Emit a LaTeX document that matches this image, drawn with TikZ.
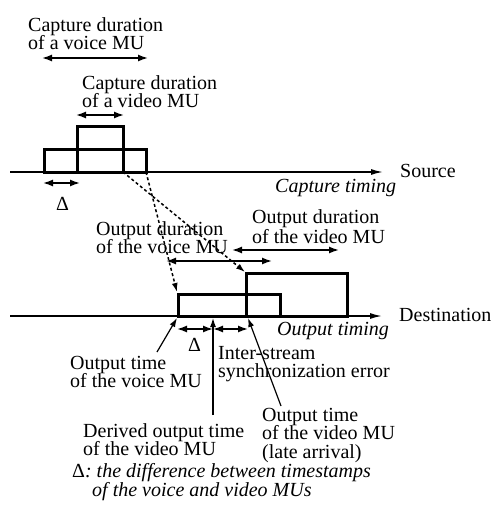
\documentclass[tikz,border=0pt]{standalone}
\usepackage{fontspec}
\setmainfont{Liberation Serif}
\usetikzlibrary{arrows.meta}
\begin{document}
\begin{tikzpicture}[x=1pt,y=-1pt,
  lbl/.style={inner sep=0pt,anchor=north west,align=left,font=\fontsize{20}{18.5}\selectfont},
  one/.style={inner sep=0pt,anchor=base west,font=\fontsize{20}{18.5}\selectfont},
  box/.style={line width=3pt},
  axis/.style={line width=1.5pt,-{Latex[length=12pt,width=6pt]}},
  dur/.style={line width=1.5pt,{Latex[length=10pt,width=7pt]}-{Latex[length=10pt,width=7pt]}},
  ptr/.style={line width=1.2pt,-{Latex[length=9pt,width=6pt]}},
  dsh/.style={line width=1.5pt,dash pattern=on 3pt off 2.5pt,-{Latex[length=9pt,width=6pt]}}]
\useasboundingbox (0,0) rectangle (495,517);

% ---------- source ----------
\coordinate (sA) at (10,172);
\coordinate (sB) at (383,172);
\draw[axis] (sA) -- (sB);
\draw[box] (44,172) rectangle (146,149);
\draw[box] (77,172) rectangle (123,126);
\node[one] (src) at (400,177) {Source};
\node[one,font=\fontsize{20}{18.5}\selectfont\itshape] (ct) at (275,192) {Capture timing};

\node[lbl] (capvoice) at (28,17) {Capture duration\\of a voice MU};
\coordinate (cv1) at (42,58); \coordinate (cv2) at (148,58);
\draw[dur] (cv1) -- (cv2);
\node[lbl] (capvideo) at (82,75) {Capture duration\\of a video MU};
\coordinate (cd1) at (76,115); \coordinate (cd2) at (124,115);
\draw[dur] (cd1) -- (cd2);
\coordinate (sd1) at (43,183); \coordinate (sd2) at (80,183);
\draw[dur] (sd1) -- (sd2);
\node[one] (sdelta) at (56,210) {Δ};

% ---------- destination ----------
\coordinate (dA) at (10,316);
\coordinate (dB) at (382,316);
\draw[axis] (dA) -- (dB);
\draw[box] (178,316) rectangle (280,294);
\draw[box] (246,316) rectangle (347,273);
\node[one] (dst) at (399,321) {Destination};
\node[one,font=\fontsize{20}{18.5}\selectfont\itshape] (ot) at (277,335) {Output timing};

% transmission (dashed)
\coordinate (vidEnd) at (123,172); \coordinate (vidArr) at (245,272);
\coordinate (voiEnd) at (146,172); \coordinate (voiArr) at (177,292);
\draw[dsh] (vidEnd) -- (vidArr);
\draw[dsh] (voiEnd) -- (voiArr);

\node[lbl] (outvoice) at (96,221) {Output duration\\of the voice MU};
\coordinate (ov1) at (166,261); \coordinate (ov2) at (272,261);
\draw[dur] (ov1) -- (ov2);
\node[lbl] (outvideo) at (252,209) {Output duration\\[1.5pt]of the video MU};
\coordinate (ow1) at (232,250); \coordinate (ow2) at (339,250);
\draw[dur] (ow1) -- (ow2);

\coordinate (t1) at (177,329); \coordinate (t2) at (213,329); \coordinate (t3) at (248,329);
\draw[dur] (t1) -- (t2);
\draw[dur] (t2) -- (t3);
\node[one] (ddelta) at (188,351) {Δ};

% pointers to the axis
\node[lbl] (otv) at (70,356) {Output time\\of the voice MU};
\coordinate (p1a) at (157,352); \coordinate (p1b) at (177,318);
\draw[ptr] (p1a) -- (p1b);

\node[lbl] (ise) at (218,346) {Inter-stream\\synchronization error};

\node[lbl] (der) at (83,423) {Derived output time\\of the video MU};
\coordinate (p2a) at (213,415); \coordinate (p2b) at (213,318);
\draw[ptr] (p2a) -- (p2b);

\node[lbl] (otd) at (262,408) {Output time\\of the video MU\\(late arrival)};
\coordinate (p3a) at (281,406); \coordinate (p3b) at (248,318);
\draw[ptr] (p3a) -- (p3b);

% caption
\node[lbl,font=\fontsize{20}{19}\selectfont\itshape] (cap) at (72,463)
  {{\upshape Δ}: the difference between timestamps\\\hspace*{20pt}of the voice and video MUs};
\end{tikzpicture}
\end{document}
